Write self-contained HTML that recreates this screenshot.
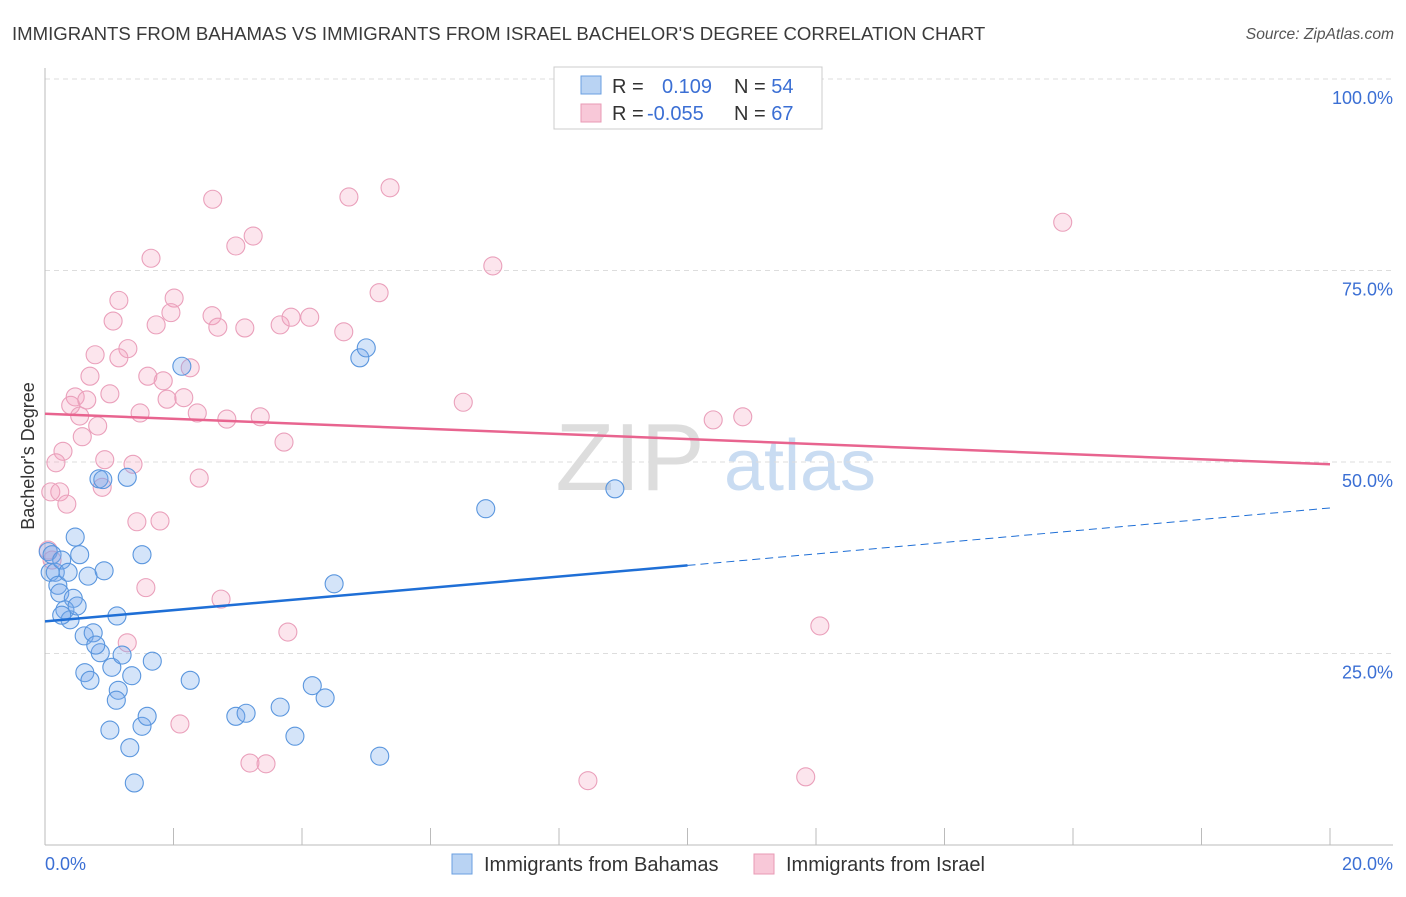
<!DOCTYPE html>
<html><head><meta charset="utf-8"><style>
body{margin:0;background:#fff;font-family:"Liberation Sans",sans-serif}
svg text{font-family:"Liberation Sans",sans-serif}
</style></head><body>
<svg id="c" width="1406" height="892">
<text x="12" y="40" font-size="18.6" fill="#3a3a3a">IMMIGRANTS FROM BAHAMAS VS IMMIGRANTS FROM ISRAEL BACHELOR'S DEGREE CORRELATION CHART</text>
<text x="1394" y="39" font-size="15.6" font-style="italic" fill="#555" text-anchor="end">Source: ZipAtlas.com</text>
<text x="630" y="490" font-size="96" font-family="Liberation Serif,serif" fill="#ddd" text-anchor="middle">ZIP</text>
<text x="800" y="490" font-size="72" fill="#c9dcf2" text-anchor="middle">atlas</text>
<g id="grid"></g><g id="pts"></g><g id="trend"></g>
<text transform="translate(34,456) rotate(-90)" font-size="18" fill="#333" text-anchor="middle">Bachelor's Degree</text>
<text x="45" y="870" font-size="18" fill="#3b6fd4">0.0%</text>
<text x="1393" y="870" font-size="18" fill="#3b6fd4" text-anchor="end">20.0%</text>
<g>
<rect x="554" y="67" width="268" height="62" fill="#fff" stroke="#ccc"/>
<rect x="581" y="76" width="20" height="18" fill="#b9d3f3" stroke="#6a9fe0"/>
<rect x="581" y="104" width="20" height="18" fill="#f8c8d8" stroke="#e89ab5"/>
<text x="612" y="93" font-size="20" fill="#333">R = <tspan fill="#3b6fd4" x="662">0.109</tspan><tspan x="734" fill="#333">N = </tspan><tspan fill="#3b6fd4">54</tspan></text>
<text x="612" y="120" font-size="20" fill="#333">R = <tspan fill="#3b6fd4" x="647">-0.055</tspan><tspan x="734" fill="#333">N = </tspan><tspan fill="#3b6fd4">67</tspan></text>
</g>
<g><rect x="452" y="854" width="20" height="20" fill="#b9d3f3" stroke="#6a9fe0"/><text x="484" y="871" font-size="20" fill="#333">Immigrants from Bahamas</text></g>
<g><rect x="754" y="854" width="20" height="20" fill="#f8c8d8" stroke="#e89ab5"/><text x="786" y="871" font-size="20" fill="#333">Immigrants from Israel</text></g>
</svg>
<script>
const blueX=[0.05,0.11,0.08,0.16,0.26,0.2,0.23,0.36,0.44,0.31,0.39,0.5,0.47,0.54,0.67,0.61,0.75,0.86,0.92,1.12,1.04,0.62,0.7,1.14,1.11,1.2,1.35,1.51,1.67,1.01,1.32,1.51,1.59,1.39,0.84,0.9,1.28,2.13,2.26,2.97,3.13,3.66,3.89,4.16,4.36,4.5,5.21,4.9,5.0,6.86,8.87,0.79,0.26];
const blueY=[38.3,37.9,35.6,35.6,37.2,33.9,32.9,35.6,32.2,30.7,29.4,31.2,40.2,37.9,35.1,27.3,27.7,25.1,35.8,29.9,23.2,22.5,21.5,20.2,18.9,24.8,22.1,37.9,24.0,15.0,12.7,15.5,16.8,8.1,47.8,47.7,48.0,62.5,21.5,16.8,17.2,18.0,14.2,20.8,19.2,34.1,11.6,63.6,64.9,43.9,46.5,26.1,30.0];
const pinkX=[2.61,4.73,5.37,15.84,3.24,2.97,1.65,6.97,5.2,2.01,1.15,1.06,1.96,1.73,2.6,2.69,3.11,3.66,3.83,4.12,4.65,0.78,1.29,1.15,2.26,0.7,1.6,1.84,0.47,0.65,1.01,1.9,2.16,0.4,0.54,1.48,2.37,2.83,3.35,6.51,10.4,10.86,0.82,0.58,0.28,3.72,0.17,0.93,1.37,0.09,0.23,0.89,2.4,0.34,1.43,1.79,0.05,0.11,1.57,2.74,3.78,1.28,12.06,2.1,3.19,3.44,8.45,11.84];
const pinkY=[84.3,84.6,85.8,81.3,79.5,78.2,76.6,75.6,72.1,71.4,71.1,68.4,69.5,67.9,69.1,67.6,67.5,67.9,68.9,68.9,67.0,64.0,64.8,63.6,62.3,61.2,61.2,60.6,58.5,58.1,58.9,58.2,58.4,57.4,56.0,56.4,56.4,55.6,55.9,57.8,55.5,55.9,54.7,53.3,51.4,52.6,49.9,50.3,49.7,46.1,46.1,46.7,47.9,44.5,42.2,42.3,38.5,37.2,33.6,32.1,27.8,26.4,28.6,15.8,10.7,10.6,8.4,8.9];
const blueTrendX=[0,10,20], blueTrendY=[29.2,36.5,44.0];
const pinkTrendX=[0,20], pinkTrendY=[56.3,49.7];
const yTicks=[25,50,75,100];
const NS="http://www.w3.org/2000/svg";
const sx=v=>45+v*64.25, sy=v=>845-v*7.66;
function mk(t,a,p){const e=document.createElementNS(NS,t);for(const k in a)e.setAttribute(k,a[k]);p.appendChild(e);return e;}
const g=document.getElementById('grid');
yTicks.forEach(t=>{
 const l=mk('line',{x1:45,x2:1393,y1:sy(t),y2:sy(t),stroke:'#ddd','stroke-dasharray':'5,4'},g);
 
 
 const tx=mk('text',{x:1393,y:sy(t)+25,'font-size':18,fill:'#3b6fd4','text-anchor':'end'},g);tx.textContent=t.toFixed(1)+'%';
 
 
});
mk('line',{x1:45,x2:45,y1:68,y2:845,stroke:'#bbb'},g);
mk('line',{x1:45,x2:1393,y1:845,y2:845,stroke:'#bbb'},g);
for(let i=0;i<=10;i++){const tk=mk('line',{x1:sx(i*2),x2:sx(i*2),y1:828,y2:845,stroke:'#bbb'},g);
 
 }
const P=document.getElementById('pts');
pinkX.forEach((x,i)=>{const c=mk('circle',{cx:sx(x),cy:sy(pinkY[i]),r:9,fill:'rgba(244,160,190,0.28)',stroke:'#eaa0bb','stroke-width':1.1},P);
 
 });
blueX.forEach((x,i)=>{const c=mk('circle',{cx:sx(x),cy:sy(blueY[i]),r:9,fill:'rgba(120,170,235,0.32)',stroke:'#5a96de','stroke-width':1.1},P);
 
 });
const T=document.getElementById('trend');
const b1=mk('line',{x1:sx(blueTrendX[0]),y1:sy(blueTrendY[0]),x2:sx(blueTrendX[1]),y2:sy(blueTrendY[1]),stroke:'#1f6fd6','stroke-width':2.5},T);


const b2=mk('line',{x1:sx(blueTrendX[1]),y1:sy(blueTrendY[1]),x2:sx(blueTrendX[2]),y2:sy(blueTrendY[2]),stroke:'#1f6fd6','stroke-width':1,'stroke-dasharray':'8,5'},T);


const p1=mk('line',{x1:sx(pinkTrendX[0]),y1:sy(pinkTrendY[0]),x2:sx(pinkTrendX[1]),y2:sy(pinkTrendY[1]),stroke:'#e8648f','stroke-width':2.5},T);


</script>
</body></html>
